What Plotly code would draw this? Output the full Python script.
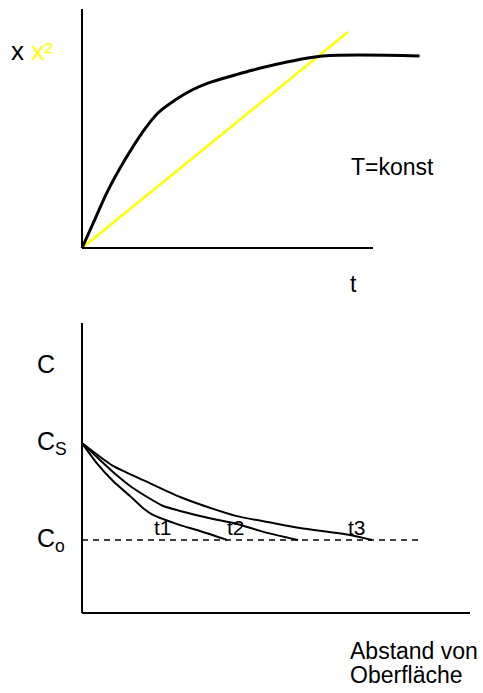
import plotly.graph_objects as go

# ---- top panel: layer thickness vs time (T = konst) ----
t_black = [0, 0.45, 0.89, 1.48, 2.06, 2.61, 3.20, 3.78, 4.33, 5.26, 5.88, 7.04, 8.28, 11.6]
x_black = [0, 1.22, 2.40, 3.70, 4.81, 5.65, 6.19, 6.61, 6.90, 7.24, 7.45, 7.78, 8.03, 8.03]
t_yellow = [0, 9.14]
x2_yellow = [0, 9.04]
top_axis_len = 10

# ---- bottom panel: concentration profiles ----
C_s = 5.86
C_o = 2.52
d_t1 = [0, 0.38, 0.80, 1.24, 1.57, 1.83, 2.53, 2.96, 3.74]
c_t1 = [C_s, 5.17, 4.55, 4.03, 3.62, 3.38, 3.03, 2.86, C_o]
d_t2 = [0, 0.80, 1.24, 1.68, 2.09, 2.53, 3.38, 4.00, 4.72, 5.57]
c_t2 = [C_s, 4.86, 4.38, 4.00, 3.69, 3.52, 3.24, 3.07, 2.78, C_o]
d_t3 = [0, 0.80, 1.68, 2.53, 3.38, 3.99, 4.85, 5.62, 6.91, 7.47]
c_t3 = [C_s, 5.07, 4.52, 4.00, 3.59, 3.34, 3.12, 2.93, 2.69, C_o]
co_line_end = 8.74
curve_labels = ["t1", "t2", "t3"]
curve_label_x = [2.09, 3.97, 7.09]
bottom_axis_len = 10

FONT = "Arial, Liberation Sans, sans-serif"
H = 693
split = 1 - 300 / H

fig = go.Figure()

# top curves
fig.add_trace(go.Scatter(x=t_yellow, y=x2_yellow, mode="lines",
                         line=dict(color="#FFFF00", width=2.5),
                         xaxis="x", yaxis="y", hoverinfo="skip"))
fig.add_trace(go.Scatter(x=t_black, y=x_black, mode="lines",
                         line=dict(color="black", width=3, shape="spline", smoothing=1.0),
                         xaxis="x", yaxis="y", hoverinfo="skip"))

# bottom curves
fig.add_trace(go.Scatter(x=[0, co_line_end], y=[C_o, C_o], mode="lines",
                         line=dict(color="black", width=1.5, dash="6px,5px"),
                         xaxis="x2", yaxis="y2", hoverinfo="skip"))
for dx, cy in [(d_t1, c_t1), (d_t2, c_t2), (d_t3, c_t3)]:
    fig.add_trace(go.Scatter(x=dx, y=cy, mode="lines",
                             line=dict(color="black", width=2, shape="spline", smoothing=0.6),
                             xaxis="x2", yaxis="y2", hoverinfo="skip"))

shapes = [
    # top axes
    dict(type="line", xref="x", yref="y", x0=0, y0=0, x1=top_axis_len, y1=0,
         line=dict(color="black", width=2)),
    dict(type="line", xref="x", yref="y", x0=0, y0=0, x1=0, y1=top_axis_len,
         line=dict(color="black", width=2)),
    # bottom axes
    dict(type="line", xref="x2", yref="y2", x0=0, y0=0, x1=bottom_axis_len, y1=0,
         line=dict(color="black", width=2)),
    dict(type="line", xref="x2", yref="y2", x0=0, y0=0, x1=0, y1=bottom_axis_len,
         line=dict(color="black", width=2)),
]

ann = []
def A(text, x, y, xref, yref, size=23, xanchor="left"):
    ann.append(dict(text=text, x=x, y=y, xref=xref, yref=yref, showarrow=False,
                    xanchor=xanchor, yanchor="middle",
                    font=dict(family=FONT, size=size, color="black")))

A("x <span style='color:#FFFF00'>x²</span>", -2.52, 8.25, "x", "y", size=26)
A("T=konst", 9.16, 3.4, "x", "y", size=23)
A("t", 9.13, -1.5, "x", "y", size=23)

A("C", -1.22, 8.6, "x2", "y2", size=25)
A("C<sub>S</sub>", -1.22, C_s, "x2", "y2", size=25)
A("C<sub>o</sub>", -1.22, C_o, "x2", "y2", size=25)
for lab, lx in zip(curve_labels, curve_label_x):
    A(lab, lx, 2.95, "x2", "y2", size=21, xanchor="center")
A("Abstand von", 6.85, -1.3, "x2", "y2", size=23)
A("Oberfläche", 6.85, -2.15, "x2", "y2", size=23)

ax_common = dict(visible=False, showgrid=False, zeroline=False, fixedrange=True)
fig.update_layout(
    width=483, height=693,
    margin=dict(l=0, r=0, t=0, b=0),
    paper_bgcolor="white", plot_bgcolor="white",
    showlegend=False,
    xaxis=dict(domain=[0, 1], range=[-82 / 29.1, (483 - 82) / 29.1], anchor="y", **ax_common),
    yaxis=dict(domain=[split, 1], range=[-(300 - 248) / 23.9, 248 / 23.9], anchor="x", **ax_common),
    xaxis2=dict(domain=[0, 1], range=[-82 / 38.8, (483 - 82) / 38.8], anchor="y2", **ax_common),
    yaxis2=dict(domain=[0, split], range=[(613 - 693) / 29, (613 - 300) / 29], anchor="x2", **ax_common),
    shapes=shapes,
    annotations=ann,
)

fig.write_html("out.html", config={"displayModeBar": False},
               post_script="document.body.style.margin='0';document.body.style.overflow='hidden';")
